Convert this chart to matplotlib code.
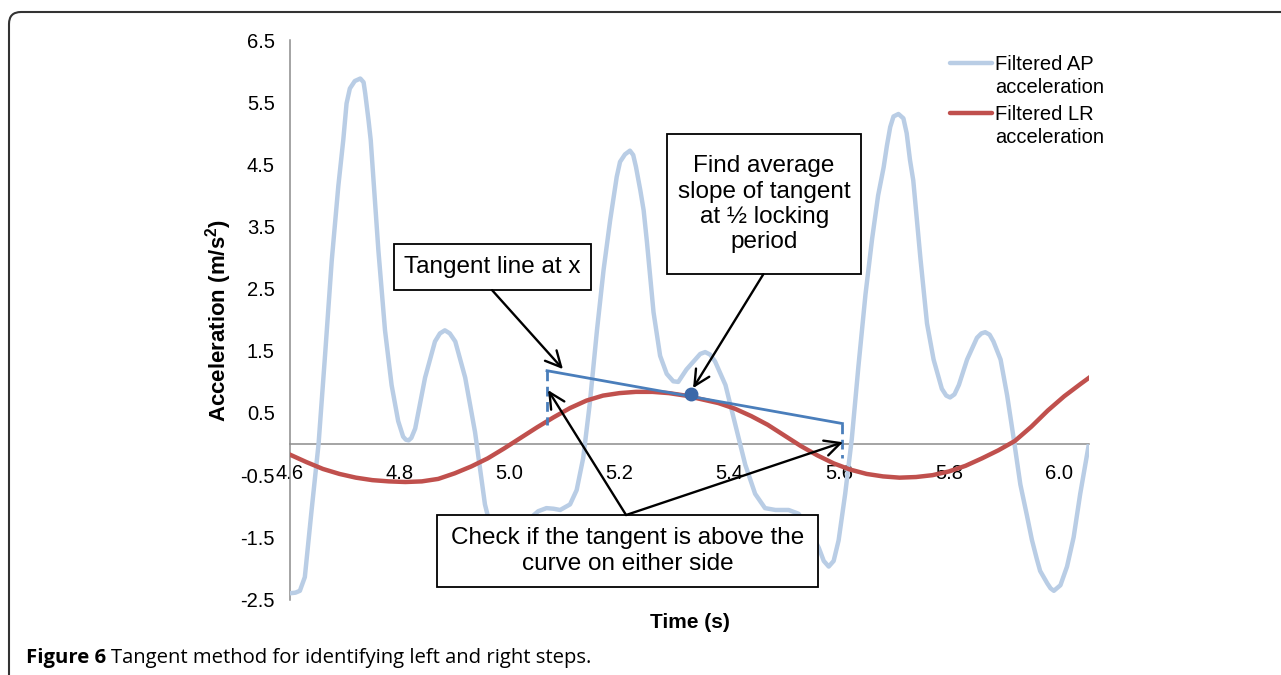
import matplotlib.pyplot as plt
from matplotlib.patches import Rectangle, FancyBboxPatch
from matplotlib.lines import Line2D

plt.rcParams['font.family'] = ['Liberation Sans', 'DejaVu Sans']
plt.rcParams['mathtext.fontset'] = 'custom'
plt.rcParams['mathtext.rm'] = 'Liberation Sans'
plt.rcParams['mathtext.bf'] = 'Liberation Sans:bold'

# filtered AP acceleration
ap_time = [4.600, 4.610, 4.618, 4.627, 4.639, 4.652, 4.664, 4.676, 4.688, 4.697,
           4.703, 4.709, 4.718, 4.728, 4.734, 4.737, 4.743, 4.747, 4.761, 4.773,
           4.785, 4.797, 4.806, 4.811, 4.816, 4.821, 4.828, 4.846, 4.864, 4.873,
           4.882, 4.891, 4.901, 4.919, 4.937, 4.955, 4.970, 4.990, 5.010, 5.030,
           5.052, 5.067, 5.080, 5.092, 5.110, 5.122, 5.134, 5.146, 5.159, 5.171,
           5.183, 5.189, 5.195, 5.201, 5.210, 5.219, 5.225, 5.230, 5.238, 5.244,
           5.250, 5.262, 5.274, 5.286, 5.298, 5.307, 5.322, 5.338, 5.347, 5.356,
           5.365, 5.374, 5.393, 5.411, 5.429, 5.447, 5.465, 5.484, 5.508, 5.526,
           5.545, 5.563, 5.572, 5.581, 5.590, 5.599, 5.611, 5.623, 5.635, 5.648,
           5.660, 5.671, 5.681, 5.687, 5.693, 5.699, 5.708, 5.717, 5.723, 5.729,
           5.735, 5.748, 5.760, 5.772, 5.787, 5.795, 5.802, 5.810, 5.818, 5.833,
           5.851, 5.859, 5.866, 5.874, 5.881, 5.894, 5.906, 5.918, 5.930, 5.942,
           5.951, 5.960, 5.966, 5.979, 5.985, 5.991, 6.003, 6.015, 6.027, 6.039,
           6.054]
ap_accel = [-2.40, -2.39, -2.36, -2.14, -1.09, 0.00, 1.45, 2.95, 4.15, 4.89,
            5.48, 5.72, 5.84, 5.88, 5.82, 5.64, 5.21, 4.89, 3.11, 1.83,
            0.95, 0.37, 0.12, 0.07, 0.06, 0.10, 0.25, 1.07, 1.65, 1.78,
            1.83, 1.78, 1.65, 1.07, 0.19, -0.97, -1.50, -1.70, -1.55, -1.25,
            -1.08, -1.03, -1.04, -1.06, -0.97, -0.74, -0.22, 0.66, 1.83, 2.80,
            3.60, 3.95, 4.30, 4.54, 4.66, 4.72, 4.65, 4.46, 4.08, 3.76,
            3.25, 2.12, 1.42, 1.13, 1.01, 1.00, 1.20, 1.36, 1.45, 1.48,
            1.44, 1.33, 0.95, 0.31, -0.33, -0.80, -1.03, -1.06, -1.06, -1.12,
            -1.35, -1.67, -1.88, -1.97, -1.88, -1.55, -0.80, 0.08, 1.24, 2.41,
            3.30, 4.00, 4.45, 4.80, 5.10, 5.27, 5.31, 5.24, 5.00, 4.57,
            4.24, 2.99, 1.94, 1.36, 0.89, 0.78, 0.75, 0.80, 0.95, 1.36,
            1.71, 1.78, 1.80, 1.76, 1.65, 1.36, 0.78, 0.08, -0.65, -1.15,
            -1.54, -1.85, -2.04, -2.24, -2.32, -2.36, -2.27, -1.97, -1.50, -0.80,
            -0.04]

# filtered LR acceleration
lr_time = [4.600, 4.630, 4.660, 4.690, 4.720, 4.750, 4.780, 4.810, 4.840, 4.870,
           4.900, 4.930, 4.960, 4.990, 5.020, 5.050, 5.080, 5.110, 5.140, 5.170,
           5.200, 5.230, 5.260, 5.290, 5.320, 5.350, 5.380, 5.410, 5.440, 5.470,
           5.500, 5.530, 5.560, 5.590, 5.620, 5.650, 5.680, 5.710, 5.740, 5.770,
           5.800, 5.830, 5.860, 5.890, 5.920, 5.950, 5.980, 6.010, 6.040, 6.054]
lr_accel = [-0.17, -0.29, -0.40, -0.48, -0.54, -0.58, -0.60, -0.61, -0.60, -0.56,
            -0.47, -0.36, -0.23, -0.07, 0.10, 0.27, 0.43, 0.58, 0.70, 0.78,
            0.82, 0.84, 0.84, 0.82, 0.78, 0.72, 0.66, 0.57, 0.45, 0.31,
            0.14, -0.03, -0.18, -0.31, -0.41, -0.48, -0.52, -0.54, -0.53, -0.50,
            -0.44, -0.35, -0.23, -0.10, 0.05, 0.28, 0.54, 0.77, 0.97, 1.06]

# tangent segment and its dashed drops
tangent_time = [5.068, 5.606]
tangent_accel = [1.18, 0.33]
drop_accel = [0.31, -0.22]
tangent_point = [5.33, 0.80]

x_ticks = [4.6, 4.8, 5.0, 5.2, 5.4, 5.6, 5.8, 6.0]
y_ticks = [-2.5, -1.5, -0.5, 0.5, 1.5, 2.5, 3.5, 4.5, 5.5, 6.5]

ap_color = '#b9cde5'
lr_color = '#c0504d'
tan_color = '#4a7ebb'

fig = plt.figure(figsize=(12.81, 6.75), dpi=100)
ax = fig.add_axes([290 / 1281, 75.5 / 675, 799 / 1281, 559.5 / 675])

ax.plot(ap_time, ap_accel, color=ap_color, lw=3.2, zorder=3, solid_joinstyle='round')
ax.plot(lr_time, lr_accel, color=lr_color, lw=3.2, zorder=3.2, solid_joinstyle='round')
ax.plot(tangent_time, tangent_accel, color=tan_color, lw=2, zorder=4)
for t, a0, a1 in zip(tangent_time, tangent_accel, drop_accel):
    ax.plot([t, t], [a0, a1], color=tan_color, lw=2, ls=(0, (3.5, 2)), zorder=4)
ax.plot(tangent_point[0], tangent_point[1], 'o', color='#3c68a8', ms=9, zorder=4.5)

ax.set_xlim(4.6, 6.055)
ax.set_ylim(-2.5, 6.5)
ax.set_xticks(x_ticks)
ax.set_xticklabels([f'{v:.1f}' for v in x_ticks])
ax.set_yticks(y_ticks)
ax.set_yticklabels([f'{v:.1f}' for v in y_ticks])
ax.tick_params(length=0, labelsize=14.5)
ax.tick_params(axis='x', pad=14)
ax.tick_params(axis='y', pad=11)
for s in ['top', 'right']:
    ax.spines[s].set_visible(False)
ax.spines['bottom'].set_position(('data', 0))
for s in ['left', 'bottom']:
    ax.spines[s].set_color('#8c8c8c')
    ax.spines[s].set_linewidth(1.1)

# callout boxes
boxes = [
    ((4.789, 2.476), 0.359, 0.739, 'Tangent line at x'),
    ((5.287, 2.733), 0.353, 2.251, 'Find average\nslope of tangent\nat \u00bd locking\nperiod'),
    ((4.868, -2.299), 0.694, 1.158, 'Check if the tangent is above the\ncurve on either side'),
]
for (x0, y0), w, h, txt in boxes:
    ax.add_patch(Rectangle((x0, y0), w, h, facecolor='white', edgecolor='black',
                           lw=1.3, zorder=5))
    ax.text(x0 + w / 2, y0 + h / 2, txt, ha='center', va='center',
            fontsize=17.5, zorder=6, linespacing=1.2)

arrows = [
    ((4.968, 2.476), (5.097, 1.206)),
    ((5.462, 2.733), (5.334, 0.90)),
    ((5.212, -1.141), (5.070, 0.868)),
    ((5.212, -1.141), (5.607, 0.03)),
]
for start, end in arrows:
    ax.annotate('', xy=end, xytext=start, zorder=7,
                arrowprops=dict(arrowstyle='->,head_length=0.7,head_width=0.35',
                                color='black', lw=1.7, shrinkA=0, shrinkB=0,
                                mutation_scale=16))

# axis titles
fig.text(219 / 1281, 1 - 320 / 675, r'Acceleration (m/s$^{\mathbf{2}}$)', rotation=90,
         ha='center', va='center', fontsize=16, fontweight='bold')
fig.text(690 / 1281, 1 - 622 / 675, 'Time (s)', ha='center', va='center',
         fontsize=15, fontweight='bold')

# legend
for yc, col, lab in [(63, ap_color, 'Filtered AP\nacceleration'),
                     (113, lr_color, 'Filtered LR\nacceleration')]:
    fig.add_artist(Line2D([950 / 1281, 992 / 1281], [1 - yc / 675] * 2,
                          color=col, lw=3.2, solid_capstyle='round'))
    fig.text(995 / 1281, 1 - (yc + 13) / 675, lab, ha='left', va='center',
             fontsize=14.5, linespacing=1.27)

# frame and caption
fig.add_artist(FancyBboxPatch((9, -30), 1320, 663 + 30, transform=None,
                              boxstyle='round,pad=0,rounding_size=12',
                              facecolor='none', edgecolor='#333333', lw=1.5))
cap1 = fig.text(26 / 1281, 1 - 658 / 675, 'Figure 6', fontsize=14.6,
                fontweight='bold', family='Open Sans', va='center')
fig.canvas.draw()
bb = cap1.get_window_extent()
fig.text((bb.x1 + 5) / 1281, 1 - 658 / 675,
         'Tangent method for identifying left and right steps.',
         fontsize=14.6, family='Open Sans', va='center')

fig.savefig('out.png', dpi=100)
